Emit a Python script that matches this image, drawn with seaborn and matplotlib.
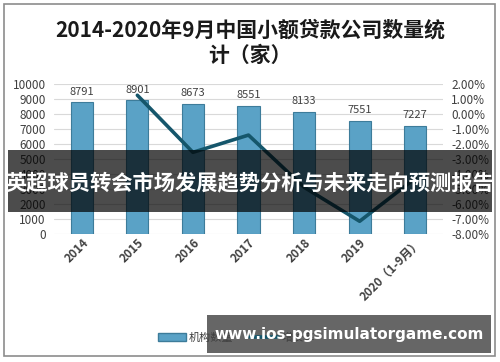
import matplotlib
matplotlib.use("Agg")
import matplotlib.pyplot as plt
import seaborn as sns
import pandas as pd
from matplotlib.patches import Rectangle
from matplotlib.lines import Line2D
from matplotlib.patches import Patch
from matplotlib.ticker import FuncFormatter

years = ["2014", "2015", "2016", "2017", "2018", "2019", "2020（1-9月）"]
counts = [8791, 8901, 8673, 8551, 8133, 7551, 7227]
growth = [None, 1.25, -2.56, -1.41, -4.89, -7.16, -4.29]
title = "2014-2020年9月中国小额贷款公司数量统\n计（家）"
banner = "英超球员转会市场发展趋势分析与未来走向预测报告"
watermark = "www.ios-pgsimulatorgame.com"

sns.set_theme(style="white")
plt.rcParams['font.family'] = ['Noto Sans CJK SC', 'DejaVu Sans']

df = pd.DataFrame({"year": years, "count": counts, "growth": growth})
df["pos"] = range(len(years))

fig = plt.figure(figsize=(5, 3.62), dpi=100)
ax = fig.add_axes([0.108, 0.354, 0.778, 0.414])

sns.barplot(data=df, x="year", y="count", ax=ax, color="#5aa2c6",
            width=0.4, edgecolor="#3d7c9a", linewidth=0.8, saturation=1)
for c in ax.containers:
    ax.bar_label(c, padding=4, fontsize=8, color="#404040")
ax.set_ylim(0, 10000)
ax.set_yticks(range(0, 10001, 1000))
ax.set_xlim(-0.5, len(years) - 0.5)
ax.grid(axis="y", color="#d9d9d9", linewidth=0.8)
ax.set_axisbelow(True)
ax.set_xlabel("")
ax.set_ylabel("")
for s in ax.spines.values():
    s.set_visible(False)
ax.tick_params(axis="y", labelsize=8.5, labelcolor="#404040", length=0, pad=6)
ax.tick_params(axis="x", length=0, pad=2)
ax.set_xticks(range(len(years)))
ax.set_xticklabels(years, rotation=45, ha="right", rotation_mode="anchor",
                   fontsize=8.5, fontweight="bold", color="#404040")

ax2 = ax.twinx()
sns.lineplot(data=df.dropna(), x="pos", y="growth", ax=ax2, color="#15566b",
             linewidth=2.6)
ax2.set_ylim(-8, 2)
ax2.set_yticks(range(-8, 3, 1))
ax2.yaxis.set_major_formatter(FuncFormatter(lambda v, p: f"{v:.2f}%"))
ax2.tick_params(axis="y", labelsize=8.5, labelcolor="#404040", length=0, pad=6)
ax2.set_xlabel("")
ax2.set_ylabel("")
for s in ax2.spines.values():
    s.set_visible(False)
ax2.set_xlim(-0.5, len(years) - 0.5)

fig.text(0.5, 1 - 43 / 362, title, ha="center", va="center", fontsize=15,
         fontweight="bold", color="#1a1a1a", linespacing=1.25)

handles = [Patch(facecolor="#5aa2c6", edgecolor="#3d7c9a"),
           Line2D([0], [0], color="#15566b", linewidth=2.6)]
fig.legend(handles, ["机构数量", "增长率"], loc="center left", ncol=2,
           bbox_to_anchor=(148 / 500, 1 - 338 / 362), frameon=False,
           fontsize=8, labelcolor="#404040", handlelength=2.5,
           handletextpad=0.3, columnspacing=1.5)

# frame
fig.patches.append(Rectangle((4 / 500, 1 - 356 / 362), 491 / 500, 352 / 362,
                             transform=fig.transFigure, fill=False,
                             edgecolor="#8c8c8c", linewidth=1.2))
# banner overlay
fig.patches.append(Rectangle((8 / 500, 1 - 212 / 362), 484 / 500, 62 / 362,
                             transform=fig.transFigure, facecolor="black",
                             alpha=0.7, edgecolor="none", zorder=5))
fig.text(250 / 500, 1 - 183 / 362, banner, ha="center", va="center",
         fontsize=15.3, fontweight="bold", color="white", zorder=6)
# watermark
fig.patches.append(Rectangle((207 / 500, 1 - 353 / 362), 284 / 500, 38 / 362,
                             transform=fig.transFigure, facecolor="#666666",
                             edgecolor="none", zorder=5))
fig.text(349 / 500, 1 - 334 / 362, watermark, ha="center", va="center",
         fontsize=11, fontweight="bold", color="white", zorder=6,
         family="DejaVu Sans")

fig.savefig("out.png", dpi=100)
